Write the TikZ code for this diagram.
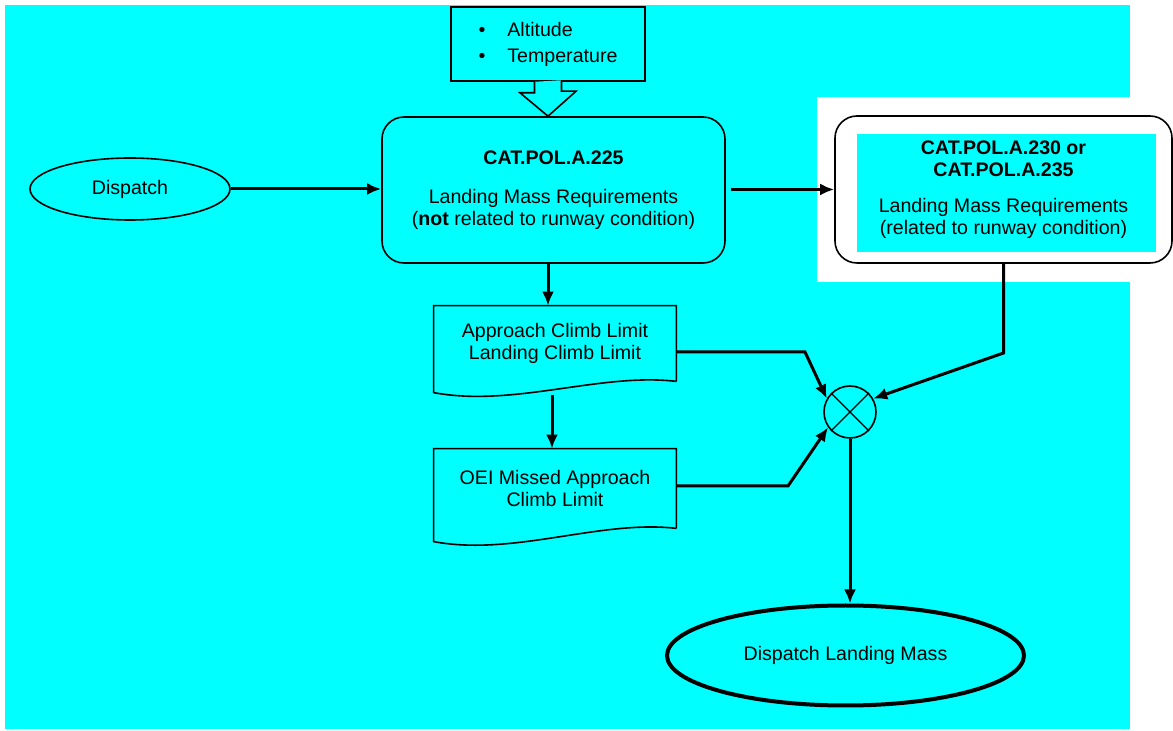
\documentclass[tikz,border=0pt]{standalone}
\usepackage{fontspec}
\setmainfont{Liberation Sans}
\usetikzlibrary{arrows.meta}
\usetikzlibrary{positioning}
\usetikzlibrary{shapes.geometric}
\definecolor{bgcyan}{RGB}{0,255,255}

\begin{document}
\begin{tikzpicture}[x=0.5pt,y=-0.5pt,
font=\fontsize{9.8}{11}\selectfont,
flow/.style={-{Latex[length=7pt,width=6pt]}, line width=1.5pt},
ovalnode/.style={ellipse, draw=black, line width=0.8pt, inner sep=0pt},
procnode/.style={rectangle, rounded corners=11pt, draw=black, line width=0.8pt, align=center, inner sep=0pt},
docnode/.style={rectangle, minimum width=121pt, align=center, inner sep=0pt},
]
\useasboundingbox (0,0) rectangle (1173,731);
\fill[bgcyan] (5,5) rectangle (1130,729);
\fill[white] (817,97) rectangle (1173,282);
\fill[bgcyan] (857,134) rectangle (1156,252);
\node[ovalnode, minimum width=100pt, minimum height=31pt](disp) at (130,189){Dispatch};
\node[procnode, minimum width=171.5pt, minimum height=73pt](main) at (553.5,190){\textbf{CAT.POL.A.225}\\[8.5pt]Landing Mass Requirements\\(\textbf{not} related to runway condition)};
\node[procnode, minimum width=168.5pt, minimum height=73.5pt](rbox) at (1003.5,189.5){\textbf{CAT.POL.A.230 or}\\\textbf{CAT.POL.A.235}\\[7pt]Landing Mass Requirements\\(related to runway condition)};
\node[draw=black, line width=0.8pt, minimum width=97pt, minimum height=37pt, align=left, inner sep=0pt](cond) at (548,44){\textbullet\hspace{11pt}Altitude\\[2pt]\textbullet\hspace{11pt}Temperature};
\node[docnode, minimum height=37.5pt](lim1) at (555,343.5){Approach Climb Limit\\Landing Climb Limit};
\node[docnode, minimum height=39.5pt](lim2) at (555,488.5){OEI Missed Approach\\Climb Limit};
\node[circle, draw=black, line width=0.8pt, minimum size=26pt, inner sep=0pt](mix) at (850,412){};
\node[ovalnode, line width=2pt, minimum width=178.5pt, minimum height=50pt](land) at (845.5,655.5){Dispatch Landing Mass};
\coordinate (k1) at (805,352);
\coordinate (k2) at (788,486);
\coordinate (k3) at (1003.5,353);
\draw[line width=0.8pt] (lim1.south east) -- (lim1.north east) -- (lim1.north west) -- ++(0,87) .. controls ++(80,15) and ++(-76,-9) .. (lim1.south east);
\draw[line width=0.8pt] (lim2.south east) -- (lim2.north east) -- (lim2.north west) -- ++(0,93) .. controls ++(80,15) and ++(-76,-9) .. (lim2.south east);
\draw[line width=0.6pt] (mix.north west) -- (mix.south east) (mix.north east) -- (mix.south west);
\draw[line width=0.8pt, fill=bgcyan] ([xshift=-6.75pt]cond.south) -- ++(0,11) -- ++(-14.5,0) -- ([xshift=-2.75pt]main.north) -- ++(28,-25) -- ++(-14.5,0) -- ++(0,-11);
\draw[flow] (disp.east) -- (disp.east -| main.west);
\draw[flow] ([xshift=2.5pt]main.east |- rbox.west) -- (rbox.west);
\draw[flow] ([xshift=-2.75pt]main.south) -- ([xshift=-2.75pt]main.south |- lim1.north);
\draw[flow] ([xshift=-1.5pt,yshift=-7pt]lim1.south) -- ([xshift=-1.5pt]lim2.north);
\draw[flow] (lim1.east |- k1) -- (k1) -- (mix.150);
\draw[flow] (lim2.east |- k2) -- (k2) -- (mix.215);
\draw[flow] (rbox.south) -- (k3) -- (mix.30);
\draw[flow] (mix.south) -- (mix.south |- land.north);
\end{tikzpicture}
\end{document}
